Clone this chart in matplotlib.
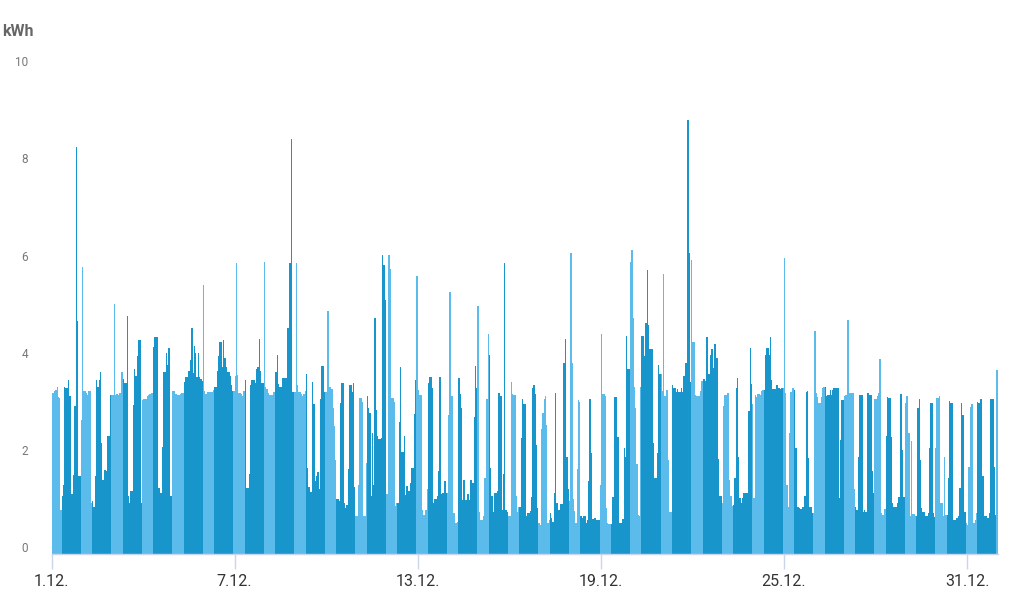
import numpy as np
import matplotlib.pyplot as plt
from matplotlib.transforms import ScaledTranslation

# Stundenwerte Dezember, kWh (je 24 Werte pro Tag, 0-23 Uhr)
d01 = [3.31,3.31,3.35,3.37,3.45,3.24,3.21,0.91, 1.2,1.43,3.45,3.42,3.42,3.59,3.26,1.24,1.24,1.63,3.05,8.37,4.79,1.6,1.6, 2.76]
d02 = [5.9,3.35,3.35,3.31,3.28,3.35,3.35,1.05, 1.1,0.98,1.6,3.59,3.45,3.59,3.74,2.28,1.53,1.74,1.74,1.71,2.43,2.43,3.28, 3.28]
d03 = [3.28,5.15,3.28,3.3,3.28,3.31,3.31,3.74, 3.6,3.52,3.52,4.89,1.19,1.05,1.31,1.31,3.07,3.81,3.66,4.07,4.4,4.4,1.05, 3.18]
d04 = [3.19,3.19,3.2,3.25,3.28,3.3,3.31,3.31, 4.27,4.47,4.47,4.47,1.37,1.27,1.27,2.2,3.74,3.74,4.14,3.9,4.25,1.2,1.2, 3.35]
d05 = [3.35,3.3,3.3,3.28,3.28,3.3,3.31,3.31, 3.54,3.64,3.64,3.77,3.77,4.0,4.65,3.72,4.29,4.14,3.64,4.14,3.64,3.6,3.57, 5.54]
d06 = [3.35,3.3,3.33,3.33,3.33,3.33,3.33,3.38, 3.45,3.45,3.76,4.07,4.36,4.36,3.86,4.4,4.04,3.85,3.74,3.74,3.66,3.48,3.35, 3.35]
d07 = [3.66,5.99,3.69,3.31,3.31,3.3,3.26,3.35, 3.59,1.36,1.36,1.65,3.48,3.59,3.59,3.59,3.52,3.81,3.86,4.42,3.77,3.52,3.52, 6.02]
d08 = [3.45,3.4,3.31,3.28,3.28,3.28,3.33,3.33, 3.74,4.1,3.5,3.45,3.45,3.62,3.62,3.62,3.62,4.65,4.65,5.99,8.54,3.33,3.33, 3.33]
d09 = [5.99,3.48,3.33,3.33,3.3,3.26,3.3,3.35, 3.71,1.77,1.39,1.29,1.29,3.54,3.09,1.5,1.6,1.7,1.34,3.19,3.88,3.88,3.33, 3.33]
d10 = [3.33,5.0,3.43,3.43,3.4,3.0,2.63,1.94, 1.13,1.13,1.1,3.11,3.52,3.52,1.05,0.95,1.02,1.75,3.48,3.48,3.33,3.52,1.39, 0.78]
d11 = [0.78,1.43,3.21,3.21,3.14,0.78,0.78,1.87, 3.26,3.0,2.91,1.2,2.5,1.43,4.86,2.96,2.43,2.37,2.37,2.4,6.16,5.95,5.23, 1.24]
d12 = [1.24,6.16,5.86,3.21,3.21,3.14,0.99,1.06, 1.06,2.73,3.85,2.11,2.11,2.43,1.22,1.41,1.31,1.31,1.47,1.77,1.77,2.88,3.59, 5.73]
d13 = [3.37,3.28,3.28,0.91,0.81,0.81,0.91,1.34, 3.52,3.64,3.64,3.42,1.05,1.13,1.13,1.2,1.72,3.64,1.24,1.27,1.27,1.5,1.27, 1.27]
d14 = [2.87,5.4,3.26,3.26,0.84,0.64,0.64,0.67, 3.62,3.3,3.0,1.12,1.53,1.12,1.12,1.24,1.12,1.53,1.53,1.46,2.83,3.88,3.42, 5.11]
d15 = [0.88,0.71,0.71,0.78,1.56,1.56,3.19,4.53, 4.1,1.77,1.2,0.88,1.26,1.27,1.31,3.31,3.31,3.26,0.91,1.65,6.0,0.91,0.86, 0.78]
d16 = [0.78,3.55,3.3,3.28,3.28,1.2,0.88,0.98, 0.98,2.39,3.19,3.09,3.09,0.78,0.84,0.84,0.9,1.17,3.42,3.48,3.3,2.25,0.95, 0.64]
d17 = [0.6,2.57,2.9,3.19,3.26,2.66,0.64,0.7, 0.85,0.74,0.67,1.26,3.31,1.06,0.91,0.91,1.04,1.04,3.93,3.93,4.42,2.01,1.34, 1.1]
d18 = [6.2,3.93,1.13,0.9,0.64,1.75,3.18,3.14, 0.79,0.74,0.78,0.78,0.65,0.71,1.5,3.19,2.09,0.72,0.72,0.74,0.71,0.71,0.71, 1.43]
d19 = [4.53,3.3,3.3,3.26,0.95,0.64,0.62,0.62, 0.62,1.17,3.23,3.23,3.23,2.41,0.64,0.65,0.65,0.72,2.18,2.0,4.49,3.81,3.81, 6.02]
d20 = [6.26,4.86,3.45,3.0,1.86,0.81,0.78,3.45, 4.49,4.49,4.07,4.75,5.84,4.72,4.23,4.23,4.23,2.28,1.56,1.56,2.09,3.9,3.71, 3.71]
d21 = [3.35,5.77,3.26,3.38,3.38,1.93,0.88,0.88, 3.48,3.42,3.42,3.33,3.4,3.33,3.33,3.42,3.33,3.67,3.93,3.93,8.94,6.19,3.55, 6.06]
d22 = [4.36,4.36,3.28,3.26,3.26,3.26,3.35,3.57, 3.6,3.6,3.57,4.46,3.71,3.71,4.1,4.22,3.83,4.33,4.33,4.03,1.95,1.2,1.2, 1.05]
d23 = [3.05,3.28,3.28,3.31,3.31,1.53,1.2,0.99, 1.02,1.56,3.42,3.62,2.0,1.15,1.06,1.15,1.26,1.26,1.26,1.27,2.94,4.24,3.5, 3.09]
d24 = [1.15,3.28,3.24,3.3,3.3,3.28,3.35,3.38, 3.38,4.1,4.24,4.24,4.1,4.47,3.59,3.4,3.4,3.4,3.48,3.42,3.42,3.4,3.42, 3.42]
d25 = [6.09,3.31,1.43,0.98,2.5,3.33,3.42,3.42, 3.38,2.18,0.98,0.98,0.95,0.93,0.98,0.98,1.19,3.33,3.35,1.98,0.98,0.98,0.84, 0.84]
d26 = [4.6,3.31,3.23,3.12,3.12,3.23,3.42,3.45, 3.45,3.26,3.28,3.28,3.37,3.28,3.37,3.42,3.42,3.42,3.42,1.15,2.35,3.18,3.18, 3.26]
d27 = [3.28,3.28,4.82,3.31,3.31,3.31,3.31,1.34, 0.98,0.91,2.01,3.28,3.28,3.28,0.88,0.91,0.88,3.31,3.31,3.28,3.28,1.72,1.26, 3.19]
d28 = [3.19,3.26,3.31,4.01,0.84,0.81,0.81,0.93, 2.43,3.24,3.21,3.21,2.41,1.05,0.97,0.97,0.97,1.05,1.17,3.3,3.3,2.15,1.17, 3.12]
d29 = [3.26,3.26,2.49,0.79,2.32,0.83,0.83,0.79, 0.78,3.0,3.19,1.93,0.95,0.86,0.86,0.79,0.79,0.84,2.18,3.11,3.11,0.84,0.76, 2.18]
d30 = [3.21,3.21,3.26,1.05,1.05,0.79,2.01,0.81, 0.81,1.56,3.16,3.12,3.12,0.71,0.71,0.74,0.74,0.79,1.36,3.12,2.87,2.87,0.86, 0.64]
d31 = [0.6,1.79,3.02,3.09,3.09,0.65,0.71,0.84, 3.14,3.12,3.19,3.19,1.6,0.78,0.78,0.78,0.74,0.84,3.19,3.19,3.19,1.8,0.81, 3.78]

tage = [d01, d02, d03, d04, d05, d06, d07, d08, d09, d10, d11, d12, d13, d14, d15, d16,
        d17, d18, d19, d20, d21, d22, d23, d24, d25, d26, d27, d28, d29, d30, d31]
tick_tage = [1, 7, 13, 19, 25, 31]
tick_labels = ['1.12.', '7.12.', '13.12.', '19.12.', '25.12.', '31.12.']

kwh = np.concatenate(tage)
stunde = np.arange(len(kwh))
# Hochtarif (dunkel) 8-22 Uhr, Niedertarif (hell) sonst
ht = (stunde % 24 >= 8) & (stunde % 24 <= 22)
farben = np.where(ht, '#1896cc', '#5bbbeb')

plt.rcParams['font.family'] = ['Roboto', 'DejaVu Sans']

fig = plt.figure(figsize=(10.24, 6.03), dpi=100)
ax = fig.add_axes([51.5/1024, (603-554.3)/603, 946/1024, (554.3-68)/603])

ax.bar(stunde, kwh, width=1.0, align='edge', color=farben, linewidth=0)

ax.set_xlim(0, len(kwh))
ax.set_ylim(0, 10)
ax.set_yticks([0, 2, 4, 6, 8, 10])
ax.set_xticks([(t-1)*24 for t in tick_tage])
ax.set_xticklabels(tick_labels)

for s in ['top', 'right', 'left']:
    ax.spines[s].set_visible(False)
ax.spines['bottom'].set_color('#ccd6eb')
ax.spines['bottom'].set_linewidth(1)

ax.tick_params(axis='y', length=0, pad=17, labelsize=8.5, labelcolor='#777777')
ax.tick_params(axis='x', length=11, width=1, color='#ccd6eb', pad=3, labelsize=11.5, labelcolor='#333333')
for lab in ax.get_yticklabels():
    lab.set_transform(lab.get_transform() + ScaledTranslation(0, 7/100, fig.dpi_scale_trans))

fig.text(2/1024, 1-31/603, 'kWh', ha='left', va='center', fontsize=11.5, fontweight='bold', color='#666666')

fig.savefig('out.png', dpi=100)
